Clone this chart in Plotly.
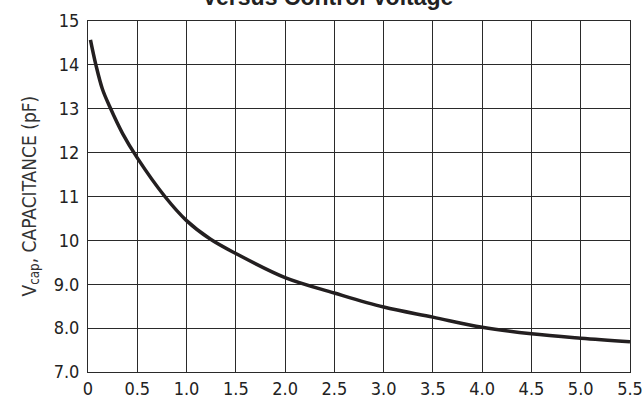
import plotly.graph_objects as go

# control voltage (V) vs capacitance (pF)
vctrl = [0.025, 0.08, 0.146, 0.22, 0.35, 0.5, 0.78, 1.0, 1.24, 1.5, 2.0, 2.5, 3.0, 3.5, 4.0, 4.5, 5.0, 5.5]
cap_pf = [14.57, 14.0, 13.45, 13.05, 12.44, 11.88, 11.0, 10.45, 10.03, 9.70, 9.15, 8.8, 8.48, 8.25, 8.02, 7.87, 7.77, 7.69]

x_ticks = [0, 0.5, 1.0, 1.5, 2.0, 2.5, 3.0, 3.5, 4.0, 4.5, 5.0, 5.5]
x_labels = ["0", "0.5", "1.0", "1.5", "2.0", "2.5", "3.0", "3.5", "4.0", "4.5", "5.0", "5.5"]
y_ticks = [7, 8, 9, 10, 11, 12, 13, 14, 15]
y_labels = ["7.0", "8.0", "9.0", "10", "11", "12", "13", "14", "15"]

narrow = "DejaVu Sans Condensed, Liberation Sans Narrow, Arial Narrow, sans-serif"

fig = go.Figure()
fig.add_trace(go.Scatter(
    x=vctrl, y=cap_pf,
    mode="lines",
    line=dict(color="#231f20", width=3.5, shape="spline", smoothing=1.0),
    showlegend=False,
    hoverinfo="skip",
))

axis_common = dict(
    showgrid=True, gridcolor="#2a2a2a", gridwidth=1,
    showline=True, linecolor="#2a2a2a", linewidth=1, mirror=True,
    zeroline=False, ticks="", automargin=False,
    tickfont=dict(family=narrow, size=18, color="#222222"),
)

fig.update_xaxes(range=[0, 5.5], tickvals=x_ticks, ticktext=x_labels, **axis_common)
fig.update_yaxes(range=[7, 15], tickvals=y_ticks, ticktext=y_labels, ticklabelstandoff=4, **axis_common)

# title sits partly above the page edge, as in the reference
fig.add_annotation(
    text="<b>Versus Control Voltage</b>",
    xref="paper", yref="paper", x=(327 - 88) / 542, y=1 + 24 / 351,
    xanchor="center", yanchor="middle", showarrow=False,
    font=dict(family="Liberation Sans, Arial, sans-serif", size=23, color="#222222"),
)
fig.add_annotation(
    text="V<sub>cap</sub>, CAPACITANCE (pF)",
    xref="paper", yref="paper", x=-58 / 542, y=0.5,
    xanchor="center", yanchor="middle", textangle=-90, showarrow=False,
    font=dict(family=narrow, size=19, color="#333333"),
)

fig.update_layout(
    width=644, height=397,
    margin=dict(l=88, r=14, t=21, b=25),
    paper_bgcolor="white", plot_bgcolor="white",
)

# drop the default 8px body margin so the figure fills the window
fig.write_html("out.html", config={"displayModeBar": False},
               post_script="document.body.style.margin='0';")
